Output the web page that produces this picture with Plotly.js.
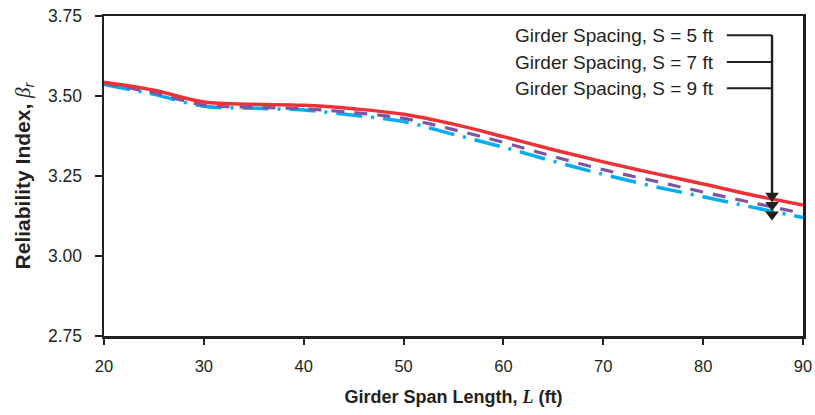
<!DOCTYPE html>
<html>
<head>
<meta charset="utf-8">
<script src="https://cdn.plot.ly/plotly-3.0.1.min.js"></script>
<style>html,body{margin:0;padding:0;background:#fff;}#chart{width:815px;height:415px;}</style>
</head>
<body>
<div id="chart"></div>
<script>
const spanLength = [20, 25, 30, 35, 40, 45, 50, 55, 60, 65, 70, 75, 80, 85, 90];
const betaS5 = [3.543, 3.518, 3.481, 3.474, 3.471, 3.460, 3.443, 3.412, 3.373, 3.332, 3.294, 3.259, 3.225, 3.190, 3.159];
const betaS7 = [3.540, 3.510, 3.472, 3.465, 3.460, 3.448, 3.430, 3.395, 3.355, 3.311, 3.270, 3.235, 3.200, 3.166, 3.133];
const betaS9 = [3.536, 3.505, 3.468, 3.462, 3.456, 3.440, 3.420, 3.380, 3.340, 3.296, 3.255, 3.218, 3.185, 3.152, 3.120];
const seriesLabels = ["Girder Spacing, S = 5 ft", "Girder Spacing, S = 7 ft", "Girder Spacing, S = 9 ft"];
const arrowTargets = [3.188, 3.159, 3.130];
const arrowX = [86.9, 86.9, 86.9];
const yTicks = [2.75, 3.00, 3.25, 3.50, 3.75];
const xTicks = [20, 30, 40, 50, 60, 70, 80, 90];

const axisColor = "#231f20";
const font = "Liberation Sans, Arial, sans-serif";

const traces = [
  {x: spanLength, y: betaS9, mode: "lines", name: seriesLabels[2], hoverinfo: "skip",
   line: {color: "#00aeef", width: 3.5, dash: "26px,9px,3px,9px", shape: "spline"}},
  {x: spanLength, y: betaS7, mode: "lines", name: seriesLabels[1], hoverinfo: "skip",
   line: {color: "#7f54a3", width: 3.2, dash: "13px,10px", shape: "spline"}},
  {x: spanLength, y: betaS5, mode: "lines", name: seriesLabels[0], hoverinfo: "skip",
   line: {color: "#ed3237", width: 3.5, shape: "spline"}},
  {x: arrowX, y: arrowTargets, mode: "markers", hoverinfo: "skip", name: "arrows",
   marker: {symbol: "triangle-down", size: 12, color: axisColor, line: {width: 0}}, cliponaxis: false}
];

const labelY = [0.94, 0.856, 0.774];
const annotations = [];
const shapes = [];
seriesLabels.forEach((t, i) => {
  annotations.push({xref: "paper", yref: "paper", x: 0.876, y: labelY[i], xanchor: "right", yanchor: "middle",
    text: t, showarrow: false, font: {family: font, size: 19, color: axisColor}});
  shapes.push({type: "line", xref: "paper", yref: "paper", x0: 0.891, x1: 0.9557, y0: labelY[i], y1: labelY[i],
    line: {color: axisColor, width: 2}});
});
shapes.push({type: "line", xref: "paper", yref: "paper", x0: 0.9557, x1: 0.9557, y0: labelY[0], y1: 0.42,
  line: {color: axisColor, width: 2.4}});

const layout = {
  width: 815, height: 415,
  margin: {l: 104, r: 12, t: 16, b: 79},
  paper_bgcolor: "#fff", plot_bgcolor: "#fff",
  showlegend: false,
  font: {family: font, color: axisColor},
  xaxis: {
    range: [20, 90], tickvals: xTicks, ticks: "outside", ticklen: 6, tickwidth: 2, tickcolor: axisColor,
    showline: true, linecolor: axisColor, linewidth: 2.5, mirror: true, showgrid: false, zeroline: false,
    ticklabelstandoff: 8,
    tickfont: {family: font, size: 16.5, color: axisColor},
    title: {text: "<b>Girder Span Length, </b><b><i><span style=\"font-family:'Liberation Serif',serif\">L</span></i></b><b> (ft)</b>",
      font: {family: font, size: 18, color: axisColor}, standoff: 16}
  },
  yaxis: {
    range: [2.75, 3.75], tickvals: yTicks, tickformat: ".2f", ticks: "outside", ticklen: 7, tickwidth: 2, tickcolor: axisColor,
    showline: true, linecolor: axisColor, linewidth: 2.5, mirror: true, showgrid: false, zeroline: false,
    ticklabelstandoff: 9,
    tickfont: {family: font, size: 17.5, color: axisColor},
    title: {text: "<b>Reliability Index, </b><i><span style=\"font-family:'Liberation Serif',serif\">β</span><sub>r</sub></i>",
      font: {family: font, size: 21, color: axisColor}, standoff: 12}
  },
  annotations: annotations,
  shapes: shapes
};

Plotly.newPlot("chart", traces, layout, {displayModeBar: false, staticPlot: true});
</script>
</body>
</html>
